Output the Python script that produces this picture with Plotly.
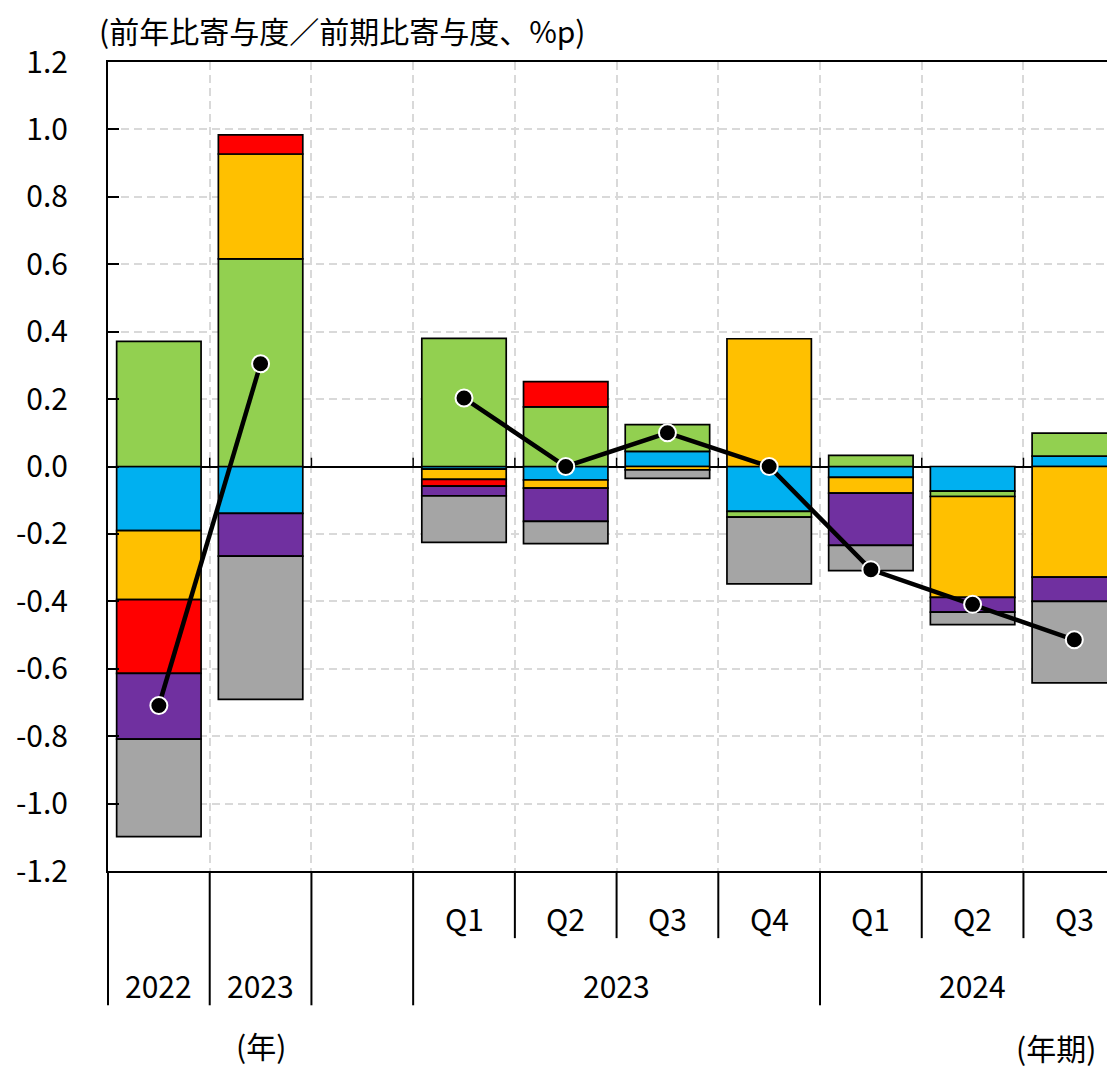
import plotly.graph_objects as go

# ---- data ----
periods = ["2022", "2023", "", "Q1", "Q2", "Q3", "Q4", "Q1", "Q2", "Q3"]
groups = ["", "", "", "2023", "2023", "2023", "2023", "2024", "2024", "2024"]
annual_labels = ["2022", "2023"]
quarter_groups = ["2023", "2024"]

blue   = [-0.190, -0.139, None, -0.008, -0.040, 0.045, -0.133, -0.032, -0.073, 0.031]
green  = [0.371, 0.616, None, 0.380, 0.177, 0.079, -0.017, 0.033, -0.016, 0.068]
yellow = [-0.205, 0.311, None, -0.030, -0.024, -0.010, 0.379, -0.047, -0.299, -0.328]
red    = [-0.219, 0.057, None, -0.020, 0.075, None, None, None, None, None]
purple = [-0.195, -0.127, None, -0.029, -0.099, None, None, -0.155, -0.044, -0.072]
gray   = [-0.289, -0.425, None, -0.138, -0.066, -0.025, -0.198, -0.075, -0.037, -0.242]
total  = [-0.709, 0.305, None, 0.203, 0.000, 0.100, 0.000, -0.306, -0.409, -0.514]

series = [
    ("blue", blue, "#00B0F0"),
    ("green", green, "#92D050"),
    ("yellow", yellow, "#FFC000"),
    ("red", red, "#FF0000"),
    ("purple", purple, "#7030A0"),
    ("gray", gray, "#A5A5A5"),
]

yticks = [1.2, 1.0, 0.8, 0.6, 0.4, 0.2, 0.0, -0.2, -0.4, -0.6, -0.8, -1.0, -1.2]
ytick_text = ["%.1f" % v for v in yticks]

FONT = "Noto Sans CJK JP, Noto Sans, sans-serif"
FS = 30

x = list(range(len(periods)))
x0, x1 = -0.5, 9.40

fig = go.Figure()
for name, vals, col in series:
    fig.add_trace(go.Bar(
        x=x, y=vals, name=name, marker=dict(color=col, line=dict(color="black", width=1.7)),
        width=0.83,
    ))
fig.add_trace(go.Scatter(
    x=x, y=total, mode="lines+markers", connectgaps=False,
    line=dict(color="black", width=4.5),
    marker=dict(color="black", size=17, line=dict(color="white", width=2)),
))

def px(v):
    return (v - x0) / (x1 - x0)

shapes = []
# small ticks on the zero line at category boundaries
for i in range(len(periods) - 1):
    shapes.append(dict(type="line", xref="x", yref="y", x0=i + 0.5, x1=i + 0.5, y0=0, y1=0.026,
                       line=dict(color="black", width=1.5)))
# dividers below the axis
Y_SHORT = -0.083
Y_LONG = -0.166
for i in range(len(periods)):
    b = i - 0.5
    if i == 0 or groups[i] != groups[i - 1] or groups[i] == "":
        y_end = Y_LONG
    else:
        y_end = Y_SHORT
    shapes.append(dict(type="line", xref="paper", yref="paper", x0=px(b), x1=px(b), y0=0, y1=y_end,
                       line=dict(color="black", width=2)))

annotations = []
tf = dict(family=FONT, size=FS, color="black")
for i, p in enumerate(periods):
    if groups[i] == "" and p in annual_labels:
        annotations.append(dict(x=i, y=-0.141, xref="x", yref="paper", text=p, showarrow=False,
                                font=tf, xanchor="center", yanchor="middle"))
    elif groups[i] != "":
        annotations.append(dict(x=i, y=-0.058, xref="x", yref="paper", text=p, showarrow=False,
                                font=tf, xanchor="center", yanchor="middle"))
for g in quarter_groups:
    idx = [i for i, gg in enumerate(groups) if gg == g]
    annotations.append(dict(x=(idx[0] + idx[-1]) / 2, y=-0.141, xref="x", yref="paper", text=g,
                            showarrow=False, font=tf, xanchor="center", yanchor="middle"))
annotations.append(dict(x=-0.011, y=1.040, xref="paper", yref="paper",
                        text="(前年比寄与度／前期比寄与度、%p)", showarrow=False, font=tf,
                        xanchor="left", yanchor="middle"))
annotations.append(dict(x=1, y=-0.215, xref="x", yref="paper", text="(年)", showarrow=False,
                        font=tf, xanchor="center", yanchor="middle"))
annotations.append(dict(x=0.983, y=-0.217, xref="paper", yref="paper", text="(年期)", showarrow=False,
                        font=tf, xanchor="right", yanchor="middle"))

fig.update_layout(
    width=1107, height=1060,
    margin=dict(l=100, r=0, t=54, b=197),
    barmode="relative",
    showlegend=False,
    plot_bgcolor="white", paper_bgcolor="white",
    font=dict(family=FONT, size=FS, color="black"),
    shapes=shapes, annotations=annotations,
    xaxis=dict(range=[x0, x1], tickvals=[i + 0.5 for i in range(len(periods) - 1)],
               showticklabels=False, ticks="", showgrid=True, gridcolor="#D9D9D9",
               griddash="8px,5px", gridwidth=1.5, zeroline=False,
               showline=True, linecolor="black", linewidth=2, mirror=True),
    yaxis=dict(range=[-1.2, 1.2], tickvals=yticks, ticktext=ytick_text,
               ticks="inside", ticklen=11, tickwidth=1.5, tickcolor="black",
               showgrid=True, gridcolor="#D9D9D9", griddash="8px,5px", gridwidth=1.5,
               zeroline=True, zerolinecolor="black", zerolinewidth=1.5,
               showline=True, linecolor="black", linewidth=2,
               ticklabelstandoff=32, tickfont=tf),
)

fig.write_html("out.html")
